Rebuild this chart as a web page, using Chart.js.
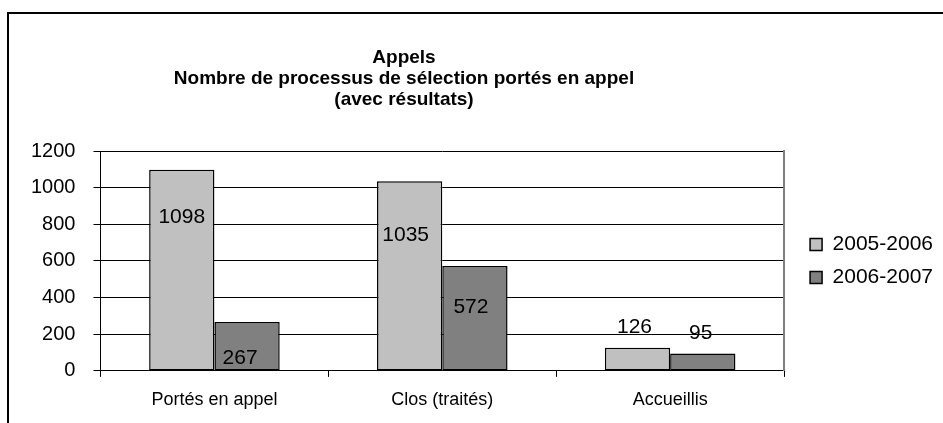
<!DOCTYPE html>
<html lang="fr">
<head>
<meta charset="utf-8">
<title>Appels</title>
<script src="https://cdn.jsdelivr.net/npm/chart.js"></script>
<style>
  html, body { margin: 0; padding: 0; background: #fff; }
  canvas { display: block; }
</style>
</head>
<body>
<canvas id="appelsChart" width="943" height="423"></canvas>
<script>
  // Données
  const categories = ['Portés en appel', 'Clos (traités)', 'Accueillis'];
  const annees = ['2005-2006', '2006-2007'];
  const valeurs2005 = [1098, 1035, 126];
  const valeurs2006 = [267, 572, 95];
  const titreLignes = ['Appels', 'Nombre de processus de sélection portés en appel', '(avec résultats)'];

  const police = 'Arial, "Liberation Sans", sans-serif';

  // Cadre extérieur + titre
  const cadreTitre = {
    id: 'cadreTitre',
    beforeDraw(chart) {
      const ctx = chart.ctx;
      ctx.save();
      ctx.strokeStyle = '#000';
      ctx.lineWidth = 2;
      ctx.beginPath();
      ctx.moveTo(8, chart.height);
      ctx.lineTo(8, 13);
      ctx.lineTo(chart.width, 13);
      ctx.stroke();

      ctx.fillStyle = '#000';
      ctx.font = 'bold 19px ' + police;
      ctx.textAlign = 'center';
      ctx.textBaseline = 'alphabetic';
      titreLignes.forEach((ligne, i) => {
        ctx.fillText(ligne, 404, 63 + i * 21);
      });
      ctx.restore();
    }
  };

  // Étiquettes de valeurs (décalage en px par rapport au haut de la barre)
  const etiquettes = {
    id: 'etiquettes',
    afterDatasetsDraw(chart, args, opts) {
      const ctx = chart.ctx;
      ctx.save();
      ctx.fillStyle = '#000';
      ctx.font = '21px ' + police;
      ctx.textAlign = 'center';
      ctx.textBaseline = 'middle';
      chart.data.datasets.forEach((ds, d) => {
        const meta = chart.getDatasetMeta(d);
        meta.data.forEach((bar, i) => {
          const dx = opts.dx[d][i];
          const dy = opts.dy[d][i];
          ctx.fillText(String(ds.data[i]), bar.x + dx, bar.y + dy);
        });
      });
      ctx.restore();
    }
  };

  const ctx = document.getElementById('appelsChart').getContext('2d');
  new Chart(ctx, {
    type: 'bar',
    data: {
      labels: categories,
      datasets: [{
        label: annees[0],
        data: valeurs2005,
        backgroundColor: '#C0C0C0',
        borderColor: '#000',
        borderWidth: 1.5,
        borderSkipped: false
      }, {
        label: annees[1],
        data: valeurs2006,
        backgroundColor: '#808080',
        borderColor: '#000',
        borderWidth: 1.5,
        borderSkipped: false
      }]
    },
    options: {
      responsive: false,
      animation: false,
      devicePixelRatio: 1,
      categoryPercentage: 0.573,
      barPercentage: 1,
      layout: {
        padding: { top: 151, left: 13, right: 0, bottom: 0.5 }
      },
      scales: {
        x: {
          grid: {
            display: true,
            drawOnChartArea: false,
            tickLength: 6,
            color: '#000'
          },
          border: { display: true, color: '#000', width: 1 },
          ticks: {
            color: '#000',
            padding: 12,
            font: { family: police, size: 18 }
          }
        },
        y: {
          min: 0,
          max: 1200,
          ticks: {
            stepSize: 200,
            color: '#000',
            padding: 18,
            font: { family: police, size: 20 },
            callback: (v) => String(v)
          },
          grid: {
            color: '#000',
            lineWidth: 1,
            tickLength: 7
          },
          border: { display: true, color: '#000', width: 1 }
        },
        bordDroit: {
          position: 'right',
          display: true,
          ticks: { display: false },
          grid: { display: false, drawTicks: false },
          border: { display: true, color: '#808080', width: 2 },
          afterFit(scale) { scale.width = 14; }
        }
      },
      plugins: {
        title: { display: false },
        tooltip: { enabled: false },
        legend: {
          position: 'right',
          fullSize: false,
          align: 'center',
          labels: {
            boxWidth: 12,
            boxHeight: 12,
            padding: 12,
            color: '#000',
            font: { family: police, size: 21 }
          }
        },
        etiquettes: {
          dx: [[0, -4, -3], [-7, -4, -2]],
          dy: [[48, 54, -21], [36, 41, -20]]
        }
      }
    },
    plugins: [cadreTitre, etiquettes]
  });
</script>
</body>
</html>
